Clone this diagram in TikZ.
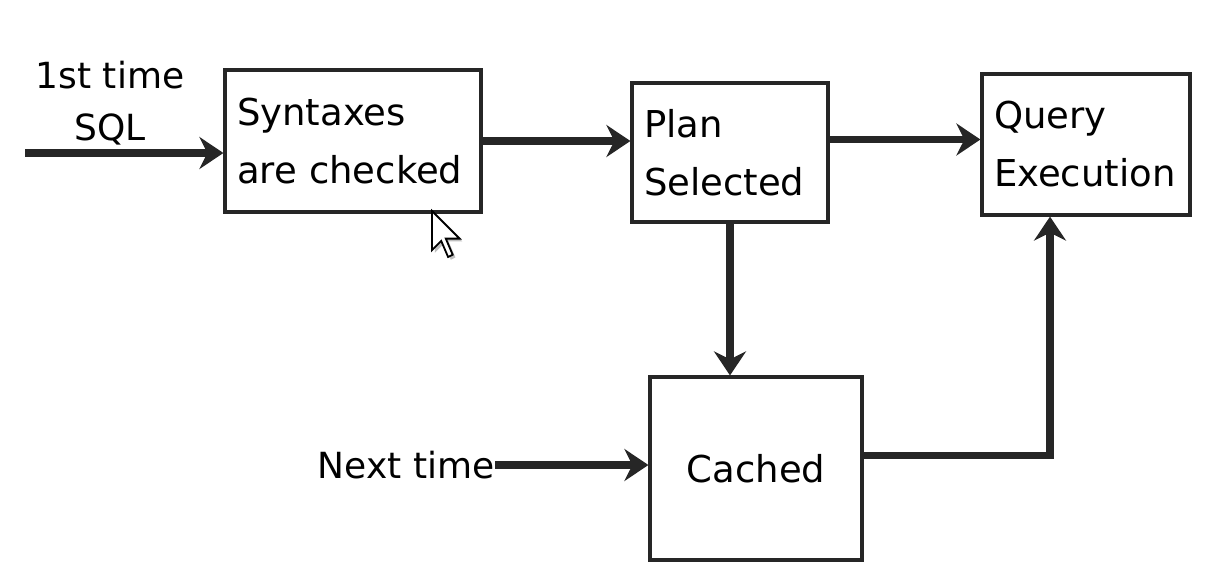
\documentclass[tikz,border=0pt]{standalone}
\usepackage{fontspec}
\setmainfont{DejaVu Sans}
\usetikzlibrary{arrows.meta,calc}
\begin{document}
\begin{tikzpicture}[x=0.5pt,y=-0.5pt,
  box/.style={draw=black!85,line width=1.6pt,inner xsep=6pt,inner ysep=4pt,align=left,
    font=\fontsize{18.5}{29}\selectfont},
  lbl/.style={font=\fontsize{18}{26}\selectfont,inner sep=0pt,align=center},
  conn/.style={draw=black!85,line width=3.6pt,-{Stealth[length=12pt,width=16pt,inset=4pt]}},
  plain/.style={draw=black!85,line width=3.6pt}]
\useasboundingbox (0,0) rectangle (1210,586);
\node[box,minimum width=128pt,minimum height=71pt,text width=116pt] (syn) at (353,141) {Syntaxes\\are checked};
\node[box,minimum width=98pt,minimum height=69.5pt,text width=86pt] (plan) at (730,152.5) {Plan\\Selected};
\node[box,minimum width=104pt,minimum height=70.5pt,text width=92pt] (query) at (1086,144.5) {Query\\Execution};
\node[box,minimum width=106pt,minimum height=91.5pt,align=center] (cached) at (756,468.5) {Cached};
\node[lbl] (first) at (110,103) {1st time\\SQL};
\node[lbl,anchor=east] (next) at (495,465) {Next time};
\coordinate (in1) at (25,153);
\draw[conn] (in1) -- (in1 -| syn.west);
\draw[conn] (syn.east) -- (syn.east -| plan.west);
\coordinate (pq) at ([yshift=2.5pt]query.west);
\draw[conn] (plan.east |- pq) -- (pq);
\draw[conn] (plan.south) -- (plan.south |- cached.north);
\draw[conn] (next.east) -- (next.east -| cached.west);
\coordinate (qin) at ([xshift=-18pt]query.south);
\draw[conn] ([yshift=6.5pt]cached.east) -| (qin);
% mouse cursor
\begin{scope}[shift={(432,211)},x=1.15pt,y=-1.15pt]
\fill[black!25,shift={(1.2,1.2)}] (0,0) -- (0,17) -- (4,13) -- (7,20) -- (9,19) -- (6,12) -- (12,12) -- cycle;
\filldraw[fill=white,draw=black,line width=0.9pt,line join=miter] (0,0) -- (0,17) -- (4,13) -- (7,20) -- (9,19) -- (6,12) -- (12,12) -- cycle;
\end{scope}
\end{tikzpicture}
\end{document}
